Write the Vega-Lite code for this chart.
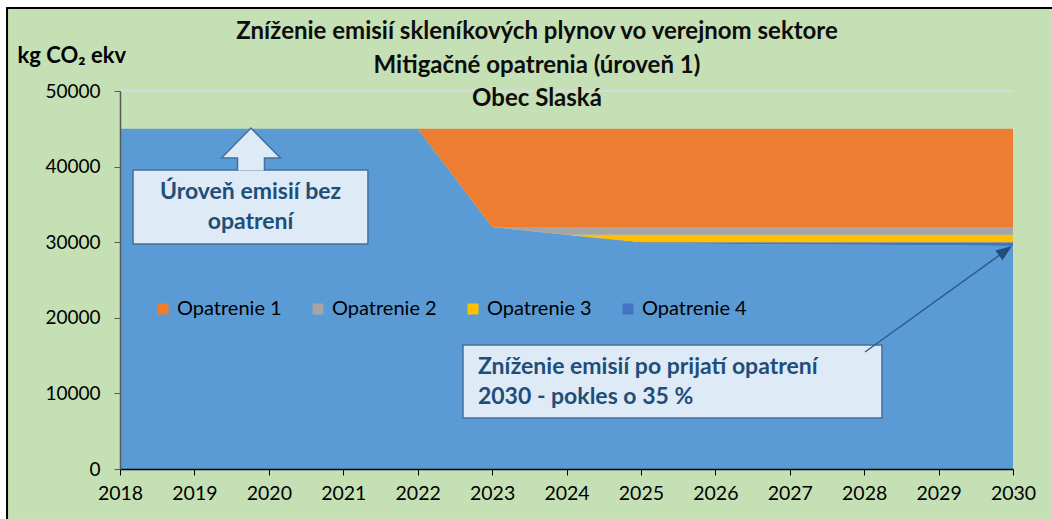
{
  "$schema": "https://vega.github.io/schema/vega-lite/v6.json",
  "width": 893,
  "height": 378,
  "autosize": {"type": "none"},
  "padding": {"left": 120, "top": 91, "right": 39, "bottom": 50},
  "background": "white",
  "config": {
    "font": "Lato",
    "view": {"stroke": null}
  },
  "datasets": {
    "emisie": [
      {"rok": 2018, "seria": "Základ", "hodnota": 45000, "poradie": 0},
      {"rok": 2019, "seria": "Základ", "hodnota": 45000, "poradie": 0},
      {"rok": 2020, "seria": "Základ", "hodnota": 45000, "poradie": 0},
      {"rok": 2021, "seria": "Základ", "hodnota": 45000, "poradie": 0},
      {"rok": 2022, "seria": "Základ", "hodnota": 45000, "poradie": 0},
      {"rok": 2023, "seria": "Základ", "hodnota": 32000, "poradie": 0},
      {"rok": 2024, "seria": "Základ", "hodnota": 31000, "poradie": 0},
      {"rok": 2025, "seria": "Základ", "hodnota": 29900, "poradie": 0},
      {"rok": 2026, "seria": "Základ", "hodnota": 29800, "poradie": 0},
      {"rok": 2027, "seria": "Základ", "hodnota": 29700, "poradie": 0},
      {"rok": 2028, "seria": "Základ", "hodnota": 29650, "poradie": 0},
      {"rok": 2029, "seria": "Základ", "hodnota": 29600, "poradie": 0},
      {"rok": 2030, "seria": "Základ", "hodnota": 29500, "poradie": 0},
      {"rok": 2018, "seria": "Opatrenie 4", "hodnota": 0, "poradie": 1},
      {"rok": 2019, "seria": "Opatrenie 4", "hodnota": 0, "poradie": 1},
      {"rok": 2020, "seria": "Opatrenie 4", "hodnota": 0, "poradie": 1},
      {"rok": 2021, "seria": "Opatrenie 4", "hodnota": 0, "poradie": 1},
      {"rok": 2022, "seria": "Opatrenie 4", "hodnota": 0, "poradie": 1},
      {"rok": 2023, "seria": "Opatrenie 4", "hodnota": 0, "poradie": 1},
      {"rok": 2024, "seria": "Opatrenie 4", "hodnota": 0, "poradie": 1},
      {"rok": 2025, "seria": "Opatrenie 4", "hodnota": 100, "poradie": 1},
      {"rok": 2026, "seria": "Opatrenie 4", "hodnota": 200, "poradie": 1},
      {"rok": 2027, "seria": "Opatrenie 4", "hodnota": 300, "poradie": 1},
      {"rok": 2028, "seria": "Opatrenie 4", "hodnota": 350, "poradie": 1},
      {"rok": 2029, "seria": "Opatrenie 4", "hodnota": 400, "poradie": 1},
      {"rok": 2030, "seria": "Opatrenie 4", "hodnota": 500, "poradie": 1},
      {"rok": 2018, "seria": "Opatrenie 3", "hodnota": 0, "poradie": 2},
      {"rok": 2019, "seria": "Opatrenie 3", "hodnota": 0, "poradie": 2},
      {"rok": 2020, "seria": "Opatrenie 3", "hodnota": 0, "poradie": 2},
      {"rok": 2021, "seria": "Opatrenie 3", "hodnota": 0, "poradie": 2},
      {"rok": 2022, "seria": "Opatrenie 3", "hodnota": 0, "poradie": 2},
      {"rok": 2023, "seria": "Opatrenie 3", "hodnota": 0, "poradie": 2},
      {"rok": 2024, "seria": "Opatrenie 3", "hodnota": 0, "poradie": 2},
      {"rok": 2025, "seria": "Opatrenie 3", "hodnota": 1000, "poradie": 2},
      {"rok": 2026, "seria": "Opatrenie 3", "hodnota": 1000, "poradie": 2},
      {"rok": 2027, "seria": "Opatrenie 3", "hodnota": 1000, "poradie": 2},
      {"rok": 2028, "seria": "Opatrenie 3", "hodnota": 1000, "poradie": 2},
      {"rok": 2029, "seria": "Opatrenie 3", "hodnota": 1000, "poradie": 2},
      {"rok": 2030, "seria": "Opatrenie 3", "hodnota": 1000, "poradie": 2},
      {"rok": 2018, "seria": "Opatrenie 2", "hodnota": 0, "poradie": 3},
      {"rok": 2019, "seria": "Opatrenie 2", "hodnota": 0, "poradie": 3},
      {"rok": 2020, "seria": "Opatrenie 2", "hodnota": 0, "poradie": 3},
      {"rok": 2021, "seria": "Opatrenie 2", "hodnota": 0, "poradie": 3},
      {"rok": 2022, "seria": "Opatrenie 2", "hodnota": 0, "poradie": 3},
      {"rok": 2023, "seria": "Opatrenie 2", "hodnota": 0, "poradie": 3},
      {"rok": 2024, "seria": "Opatrenie 2", "hodnota": 1000, "poradie": 3},
      {"rok": 2025, "seria": "Opatrenie 2", "hodnota": 1000, "poradie": 3},
      {"rok": 2026, "seria": "Opatrenie 2", "hodnota": 1000, "poradie": 3},
      {"rok": 2027, "seria": "Opatrenie 2", "hodnota": 1000, "poradie": 3},
      {"rok": 2028, "seria": "Opatrenie 2", "hodnota": 1000, "poradie": 3},
      {"rok": 2029, "seria": "Opatrenie 2", "hodnota": 1000, "poradie": 3},
      {"rok": 2030, "seria": "Opatrenie 2", "hodnota": 1000, "poradie": 3},
      {"rok": 2018, "seria": "Opatrenie 1", "hodnota": 0, "poradie": 4},
      {"rok": 2019, "seria": "Opatrenie 1", "hodnota": 0, "poradie": 4},
      {"rok": 2020, "seria": "Opatrenie 1", "hodnota": 0, "poradie": 4},
      {"rok": 2021, "seria": "Opatrenie 1", "hodnota": 0, "poradie": 4},
      {"rok": 2022, "seria": "Opatrenie 1", "hodnota": 0, "poradie": 4},
      {"rok": 2023, "seria": "Opatrenie 1", "hodnota": 13000, "poradie": 4},
      {"rok": 2024, "seria": "Opatrenie 1", "hodnota": 13000, "poradie": 4},
      {"rok": 2025, "seria": "Opatrenie 1", "hodnota": 13000, "poradie": 4},
      {"rok": 2026, "seria": "Opatrenie 1", "hodnota": 13000, "poradie": 4},
      {"rok": 2027, "seria": "Opatrenie 1", "hodnota": 13000, "poradie": 4},
      {"rok": 2028, "seria": "Opatrenie 1", "hodnota": 13000, "poradie": 4},
      {"rok": 2029, "seria": "Opatrenie 1", "hodnota": 13000, "poradie": 4},
      {"rok": 2030, "seria": "Opatrenie 1", "hodnota": 13000, "poradie": 4}
    ]
  },
  "layer": [
    {
      "data": {"values": [{}]},
      "mark": {"type": "rect", "fill": "#C5E0B4", "stroke": "#000000", "strokeWidth": 2},
      "encoding": {
        "x": {"datum": 2016.482, "type": "quantitative"},
        "x2": {"datum": 2030.63},
        "y": {"datum": 60979, "type": "quantitative"},
        "y2": {"datum": -8069}
      }
    },
    {
      "data": {"values": [{}]},
      "mark": {"type": "rule", "stroke": "#d9d9d9", "strokeWidth": 2},
      "encoding": {
        "x": {"datum": 2018, "type": "quantitative"},
        "x2": {"datum": 2030},
        "y": {"datum": 50000, "type": "quantitative"}
      }
    },
    {
      "data": {"name": "emisie"},
      "mark": {"type": "area", "interpolate": "linear", "opacity": 1},
      "encoding": {
        "x": {
          "field": "rok",
          "type": "quantitative",
          "scale": {"domain": [2018, 2030], "nice": false, "zero": false},
          "axis": {
            "title": null,
            "values": [2018, 2019, 2020, 2021, 2022, 2023, 2024, 2025, 2026, 2027, 2028, 2029, 2030],
            "format": "d",
            "grid": false,
            "zindex": 1,
            "domainColor": "#000000",
            "domainWidth": 1.5,
            "tickColor": "#000000",
            "tickSize": 6,
            "labelFontSize": 19.5,
            "labelColor": "#000000",
            "labelPadding": 9,
            "labelFlush": false,
            "labelOverlap": false
          }
        },
        "y": {
          "field": "hodnota",
          "type": "quantitative",
          "stack": "zero",
          "scale": {"domain": [0, 50000], "nice": false},
          "axis": {
            "title": "kg CO₂ ekv",
            "titleAngle": 0,
            "titleAlign": "left",
            "titleBaseline": "middle",
            "titleX": -103,
            "titleY": -36,
            "titleFontSize": 22,
            "titleFontWeight": "bold",
            "titleColor": "#000000",
            "values": [0, 10000, 20000, 30000, 40000, 50000],
            "format": "d",
            "grid": false,
            "zindex": 1,
            "domainColor": "#595959",
            "domainWidth": 1.5,
            "tickColor": "#595959",
            "tickSize": 6,
            "labelFontSize": 19,
            "labelColor": "#000000",
            "labelPadding": 14,
            "labelFlush": false
          }
        },
        "color": {
          "field": "seria",
          "type": "nominal",
          "scale": {
            "domain": ["Opatrenie 1", "Opatrenie 2", "Opatrenie 3", "Opatrenie 4", "Základ"],
            "range": ["#ED7D31", "#A5A5A5", "#FFC000", "#4472C4", "#5B9BD5"]
          },
          "legend": {
            "title": null,
            "values": ["Opatrenie 1", "Opatrenie 2", "Opatrenie 3", "Opatrenie 4"],
            "orient": "none",
            "direction": "horizontal",
            "legendX": 33,
            "legendY": 208,
            "padding": 0,
            "columnPadding": 26,
            "symbolType": "square",
            "symbolSize": 121,
            "symbolStrokeWidth": 0,
            "symbolOpacity": 1,
            "labelFontSize": 20,
            "labelColor": "#000000",
            "labelOffset": 4
          }
        },
        "order": {"field": "poradie", "type": "quantitative", "sort": "ascending"}
      }
    },
    {
      "data": {"values": [{}]},
      "mark": {"type": "rect", "fill": "#DEEBF7", "stroke": "#41719C", "strokeWidth": 1.5},
      "encoding": {
        "x": {"datum": 2018.175, "type": "quantitative"},
        "x2": {"datum": 2021.332},
        "y": {"datum": 39550, "type": "quantitative"},
        "y2": {"datum": 29762}
      }
    },
    {
      "data": {"values": [{}]},
      "mark": {
        "type": "point",
        "shape": "M -0.45 0.683 L -0.45 0.267 L -0.983 0.267 L 0 -0.733 L 0.983 0.267 L 0.45 0.267 L 0.45 0.683",
        "size": 3600,
        "filled": true,
        "fill": "#DEEBF7",
        "stroke": "#41719C",
        "strokeWidth": 1.5,
        "opacity": 1
      },
      "encoding": {
        "x": {"datum": 2019.76, "type": "quantitative"},
        "y": {"datum": 42196, "type": "quantitative"}
      }
    },
    {
      "data": {"values": [{}]},
      "mark": {
        "type": "text",
        "text": ["Úroveň emisií bez", "opatrení"],
        "align": "center",
        "baseline": "middle",
        "lineHeight": 30,
        "fontSize": 23,
        "fontWeight": "bold",
        "color": "#1F4E79"
      },
      "encoding": {
        "x": {"datum": 2019.754, "type": "quantitative"},
        "y": {"datum": 36640, "type": "quantitative"}
      }
    },
    {
      "data": {"values": [{}]},
      "mark": {"type": "rect", "fill": "#DEEBF7", "stroke": "#41719C", "strokeWidth": 1.5},
      "encoding": {
        "x": {"datum": 2022.609, "type": "quantitative"},
        "x2": {"datum": 2028.239},
        "y": {"datum": 16402, "type": "quantitative"},
        "y2": {"datum": 6746}
      }
    },
    {
      "data": {"values": [{}]},
      "mark": {"type": "rule", "stroke": "#2E5A88", "strokeWidth": 1.5},
      "encoding": {
        "x": {"datum": 2028.011, "type": "quantitative"},
        "x2": {"datum": 2029.878},
        "y": {"datum": 15476, "type": "quantitative"},
        "y2": {"datum": 28704}
      }
    },
    {
      "data": {"values": [{}]},
      "mark": {
        "type": "point",
        "shape": "M 0 -1 L 0.6 0.6 L -0.6 0.6 Z",
        "size": 400,
        "angle": 54,
        "filled": true,
        "fill": "#1F4E79",
        "strokeWidth": 0,
        "opacity": 1
      },
      "encoding": {
        "x": {"datum": 2029.877, "type": "quantitative"},
        "y": {"datum": 28717, "type": "quantitative"}
      }
    },
    {
      "data": {"values": [{}]},
      "mark": {
        "type": "text",
        "text": ["Zníženie emisií po prijatí opatrení", "2030 - pokles o 35 %"],
        "align": "left",
        "baseline": "middle",
        "lineHeight": 30,
        "fontSize": 23,
        "fontWeight": "bold",
        "color": "#1F4E79"
      },
      "encoding": {
        "x": {"datum": 2022.81, "type": "quantitative"},
        "y": {"datum": 13492, "type": "quantitative"}
      }
    },
    {
      "data": {"values": [{}]},
      "mark": {
        "type": "text",
        "text": ["Zníženie emisií skleníkových plynov vo verejnom sektore", "Mitigačné opatrenia (úroveň 1)", "Obec Slaská"],
        "align": "center",
        "baseline": "middle",
        "lineHeight": 33.5,
        "fontSize": 24,
        "fontWeight": "bold",
        "color": "#0d0d0d"
      },
      "encoding": {
        "x": {"datum": 2023.603, "type": "quantitative"},
        "y": {"datum": 57800, "type": "quantitative"}
      }
    }
  ]
}
